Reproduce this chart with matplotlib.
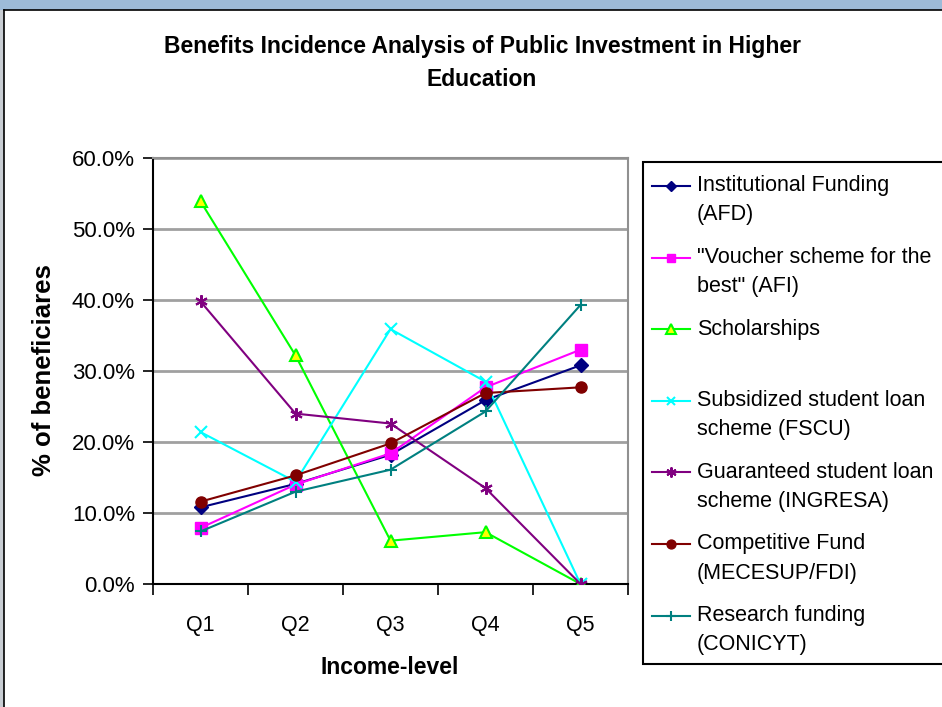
import matplotlib
matplotlib.use("Agg")
import matplotlib.pyplot as plt
from matplotlib.patches import Rectangle
from matplotlib.lines import Line2D
import numpy as np

plt.rcParams['font.family'] = ['Liberation Sans', 'DejaVu Sans']

categories = ["Q1", "Q2", "Q3", "Q4", "Q5"]

institutional = [10.8, 14.1, 18.2, 25.9, 30.8]
voucher = [7.9, 14.0, 18.4, 27.7, 33.0]
scholarships = [53.9, 32.2, 6.1, 7.3, 0.0]
subsidized = [21.4, 14.4, 35.9, 28.5, 0.0]
guaranteed = [39.8, 24.0, 22.6, 13.5, 0.0]
competitive = [11.6, 15.3, 19.8, 26.9, 27.7]
research = [7.4, 13.0, 16.1, 24.3, 39.3]

series_labels = [
    "Institutional Funding\n(AFD)",
    "\"Voucher scheme for the\nbest\" (AFI)",
    "Scholarships\n",
    "Subsidized student loan\nscheme (FSCU)",
    "Guaranteed student loan\nscheme (INGRESA)",
    "Competitive Fund\n(MECESUP/FDI)",
    "Research funding\n(CONICYT)",
]

W, H = 942, 707
fig = plt.figure(figsize=(W / 100, H / 100), dpi=100)
fig.patch.set_facecolor("white")

def fx(px):
    return px / W

def fy(py):
    return 1 - py / H

# screenshot frame decorations
fig.patches.append(Rectangle((0, fy(10)), 1, 10 / H, transform=fig.transFigure,
                             facecolor="#9dbbd8", edgecolor="none", zorder=0))
fig.patches.append(Rectangle((0, 0), fx(4), fy(10), transform=fig.transFigure,
                             facecolor="#c8cdd3", edgecolor="none", zorder=0))
fig.add_artist(Line2D([fx(4), fx(4)], [0, fy(10)], transform=fig.transFigure,
                      color="black", lw=1.2))
fig.add_artist(Line2D([fx(4), 1], [fy(10), fy(10)], transform=fig.transFigure,
                      color="black", lw=1.2))

left, right, top, bottom = 153, 628, 158, 584
ax = fig.add_axes([fx(left), fy(bottom), (right - left) / W, (bottom - top) / H])

x = np.arange(len(categories))
lw = 1.5
lines = []
lines += ax.plot(x, institutional, color="#000080", lw=lw, marker="D", ms=7, mfc="#000080",
                 mec="#000080", zorder=5)
lines += ax.plot(x, voucher, color="#FF00FF", lw=lw, marker="s", ms=8, mfc="#FF00FF",
                 mec="#FF00FF", zorder=5)
lines += ax.plot(x, scholarships, color="#00FF00", lw=lw, marker="^", ms=9, mfc="#FFFF00",
                 mec="#00FF00", mew=1.5, zorder=5)
lines += ax.plot(x, subsidized, color="#00FFFF", lw=lw, marker="x", ms=8, mec="#00FFFF",
                 mew=1.5, zorder=5)
lines += ax.plot(x, guaranteed, color="#800080", lw=lw, marker=(6, 2, 0), ms=9, mec="#800080",
                 mew=1.5, zorder=5)
lines += ax.plot(x, competitive, color="#800000", lw=lw, marker="o", ms=8, mfc="#800000",
                 mec="#800000", zorder=5)
lines += ax.plot(x, research, color="#008080", lw=lw, marker="+", ms=9, mec="#008080",
                 mew=1.5, zorder=5)

ax.set_xlim(-0.5, len(categories) - 0.5)
ax.set_ylim(0, 60)
ax.set_yticks(np.arange(0, 61, 10))
ax.set_yticklabels([f"{v:.1f}%" for v in np.arange(0, 61, 10)], fontsize=16)
ax.set_xticks(x)
ax.set_xticklabels(categories, fontsize=15.5)
ax.set_xticks(np.arange(-0.5, len(categories), 1), minor=True)
ax.tick_params(axis="x", which="major", length=0, pad=22)
ax.tick_params(axis="x", which="minor", length=8, width=1.2, direction="out", color="black")
ax.tick_params(axis="y", length=7, width=1.2, direction="out", pad=6, colors="black")
ax.yaxis.grid(True, color="#a0a0a0", lw=2)
ax.set_axisbelow(True)
for s in ["top", "right"]:
    ax.spines[s].set_color("#909090")
    ax.spines[s].set_linewidth(1.5)
for s in ["left", "bottom"]:
    ax.spines[s].set_color("black")
    ax.spines[s].set_linewidth(1.5)

fig.text(fx(44), fy(370), "% of beneficiares", rotation=90, ha="center", va="center",
         fontsize=18.5, fontweight="bold")
fig.text(fx(390), fy(667), "Income-level", ha="center", va="center",
         fontsize=16.5, fontweight="bold")
fig.text(fx(482), fy(46), "Benefits Incidence Analysis of Public Investment in Higher",
         ha="center", va="center", fontsize=16.5, fontweight="bold")
fig.text(fx(482), fy(80), "Education", ha="center", va="center",
         fontsize=16.5, fontweight="bold")

# legend box (drawn by hand so handles align with first text line)
leg_left, leg_top, leg_bottom = 643, 162, 664
fig.patches.append(Rectangle((fx(leg_left), fy(leg_bottom)), fx(W + 20 - leg_left),
                             (leg_bottom - leg_top) / H, transform=fig.transFigure,
                             facecolor="white", edgecolor="black", lw=1.5, zorder=3))
first_y, pitch, line_gap = 186, 71.6, 29
for i, (ln, lab) in enumerate(zip(lines, series_labels)):
    yy = first_y + pitch * i
    fig.add_artist(Line2D([fx(652), fx(690)], [fy(yy), fy(yy)], transform=fig.transFigure,
                          color=ln.get_color(), lw=1.5, zorder=4))
    fig.add_artist(Line2D([fx(671)], [fy(yy)], transform=fig.transFigure,
                          marker=ln.get_marker(), ms=ln.get_markersize() * 0.8,
                          mfc=ln.get_markerfacecolor(), mec=ln.get_markeredgecolor(),
                          mew=ln.get_markeredgewidth(), lw=0, zorder=5))
    for j, part in enumerate(lab.split("\n")):
        if part:
            fig.text(fx(697), fy(yy + j * line_gap), part, ha="left", va="center",
                     fontsize=15.5, zorder=6)

fig.savefig("out.png", dpi=100)
